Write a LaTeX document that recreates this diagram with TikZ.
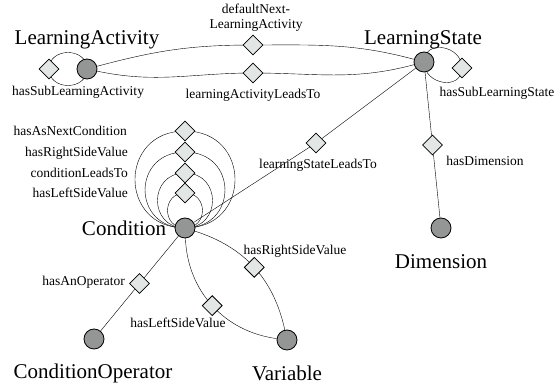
\documentclass[tikz,border=0pt]{standalone}
\usepackage{fontspec}
\setmainfont{Liberation Serif}
\usetikzlibrary{shapes.geometric,backgrounds}
\definecolor{nodegray}{RGB}{148,150,150}
\definecolor{diafill}{RGB}{226,230,229}
\begin{document}
\begin{tikzpicture}[x=1pt,y=1pt,
  cls/.style={circle,draw=black,fill=nodegray,line width=0.8pt,minimum size=20pt,inner sep=0pt},
  dia/.style={rectangle,rotate=45,draw=black,fill=diafill,line width=0.8pt,minimum size=14pt,inner sep=0pt},
  big/.style={font=\fontsize{21}{24}\selectfont,inner sep=0pt},
  small/.style={font=\fontsize{13.5}{15}\selectfont,inner sep=0pt,align=center},
  conn/.style={line width=0.8pt}]
\useasboundingbox (0,0) rectangle (557,385);
% labels (under the circles)
\node[big] (tLA) at (87,345) {LearningActivity};
\node[big] (tLS) at (423,345) {LearningState};
\node[big] (tC) at (124,157) {Condition};
\node[big] (tD) at (441,123) {Dimension};
\node[big] (tCO) at (93,12) {ConditionOperator};
\node[big] (tV) at (287,12) {Variable};
\node[small] (l1) at (78,293) {hasSubLearningActivity};
\node[small] (l2) at (256,367.5) {defaultNext-\\LearningActivity};
\node[small] (l3) at (253,290) {learningActivityLeadsTo};
\node[small] (l4) at (497,292) {hasSubLearningState};
\node[small] (l5) at (318,220) {learningStateLeadsTo};
\node[small] (l6) at (485,224) {hasDimension};
\node[small,anchor=east] (l7) at (127,254) {hasAsNextCondition};
\node[small,anchor=east] (l8) at (128,232) {hasRightSideValue};
\node[small,anchor=east] (l9) at (128,212) {conditionLeadsTo};
\node[small,anchor=east] (l10) at (128,192) {hasLeftSideValue};
\node[small,anchor=east] (l11) at (125,103) {hasAnOperator};
\node[small] (l12) at (295,134) {hasRightSideValue};
\node[small] (l13) at (178,62) {hasLeftSideValue};
% classes
\node[cls] (LA) at (87,316) {};
\node[cls] (LS) at (424,323) {};
\node[cls] (C) at (185,157) {};
\node[cls] (Dim) at (441,157) {};
\node[cls] (CO) at (94,46) {};
\node[cls] (V) at (287,45) {};
% property diamonds
\node[dia] (dTop) at (253,340) {};
\node[dia] (dBot) at (253,312) {};
\node[dia] (dLA) at (49,316) {};
\node[dia] (dLS) at (462,317) {};
\node[dia] (dC1) at (185,254) {};
\node[dia] (dC2) at (185,233) {};
\node[dia] (dC3) at (185,212) {};
\node[dia] (dC4) at (185,192) {};
\node[dia] (dLSC) at (316,242) {};
\begin{scope}[on background layer,conn]
\draw (LA) to[out=15,in=180] (dTop.center) to[out=0,in=165] (LS);
\draw (LA) to[out=-12,in=180] (dBot.center) to[out=0,in=195] (LS);
\draw (LA.center) .. controls +(0,22) and +(0,22) .. (dLA.center) .. controls +(0,-22) and +(0,-22) .. (LA.center);
\draw (LS.center) .. controls +(0,23) and +(0,23) .. (dLS.center) .. controls +(0,-23) and +(0,-23) .. (LS.center);
\draw (C.center) .. controls +(-66.7,0) and +(-66.7,0) .. (dC1.center) .. controls +(66.7,0) and +(66.7,0) .. (C.center);
\draw (C.center) .. controls +(-53.3,0) and +(-53.3,0) .. (dC2.center) .. controls +(53.3,0) and +(53.3,0) .. (C.center);
\draw (C.center) .. controls +(-36.7,0) and +(-36.7,0) .. (dC3.center) .. controls +(36.7,0) and +(36.7,0) .. (C.center);
\draw (C.center) .. controls +(-23.3,0) and +(-23.3,0) .. (dC4.center) .. controls +(23.3,0) and +(23.3,0) .. (C.center);
\draw (LS) -- (dLSC.center) -- (C);
\draw (LS) -- node[dia,pos=0.5] (dLSD) {} (Dim);
\draw (C) -- node[dia,pos=0.5] (dCO) {} (CO);
\draw (C) to[bend left=30] node[dia] (dCVr) {} (V);
\draw (C) to[bend right=40] node[dia] (dCVl) {} (V);
\end{scope}
\end{tikzpicture}
\end{document}
